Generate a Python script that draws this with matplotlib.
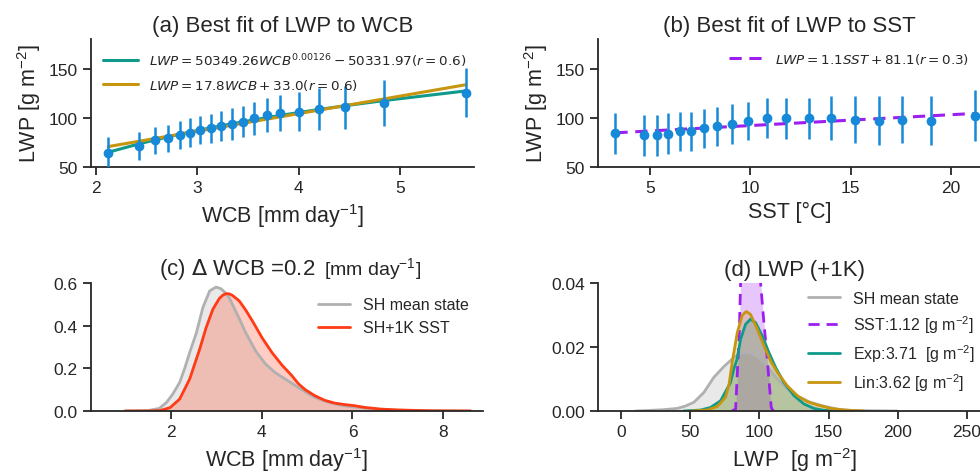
import matplotlib
matplotlib.use("Agg")
import matplotlib.pyplot as plt
import numpy as np
import seaborn as sns

# ---- (a) binned LWP against WCB ----
WCB_BINS = [2.12, 2.42, 2.58, 2.71, 2.83, 2.93, 3.03, 3.13, 3.23, 3.34,
            3.45, 3.56, 3.69, 3.82, 4.00, 4.20, 4.46, 4.84, 5.65]
LWP_BY_WCB = [64.0, 71.5, 77.0, 79.0, 82.4, 85.0, 87.5, 89.2, 92.0, 93.7,
              96.0, 99.5, 103.0, 104.6, 106.3, 109.0, 110.7, 115.0, 125.4]
LWP_BY_WCB_STD = [16.0, 14.5, 14.0, 14.0, 14.5, 14.5, 14.5, 15.0, 15.3, 16.0,
                  16.0, 16.5, 17.5, 18.5, 20.0, 21.0, 21.8, 23.0, 25.0]

# fit coefficients as printed in the legends
EXP_FIT = (50349.26, 0.00126, -50331.97)   # a * WCB**b + c
LIN_FIT_WCB = (17.8, 33.0)
LIN_FIT_SST = (1.1, 81.1)

# ---- (b) binned LWP against SST ----
SST_BINS = [3.27, 4.68, 5.35, 5.90, 6.48, 7.05, 7.67, 8.34, 9.09, 9.88,
            10.82, 11.80, 12.92, 14.04, 15.22, 16.39, 17.56, 18.99, 21.20]
LWP_BY_SST = [84.1, 82.0, 82.0, 84.0, 86.2, 86.2, 89.2, 91.3, 93.7, 96.8,
              99.5, 99.5, 99.5, 99.5, 98.1, 97.0, 98.1, 97.0, 102.2]
LWP_BY_SST_STD = [20.5, 20.5, 20.5, 20.5, 20.0, 20.0, 20.0, 20.0, 20.0, 19.5,
                  20.5, 21.0, 21.0, 22.5, 24.0, 25.0, 24.0, 25.0, 25.5]

# ---- (c) WCB density ----
WCB_X_MEAN = [1.0, 1.5, 1.75, 1.91, 2.05, 2.2, 2.31, 2.42, 2.57, 2.71, 2.86,
              3.0, 3.11, 3.2, 3.29, 3.43, 3.55, 3.65, 3.76, 3.87, 3.98, 4.09,
              4.3, 4.52, 4.81, 5.0, 5.17, 5.35, 5.54, 5.75, 5.97, 6.48, 6.99,
              7.5, 8.0, 8.6]
WCB_PDF_MEAN = [0.0, 0.002, 0.012, 0.04, 0.08, 0.134, 0.2, 0.274, 0.368, 0.485,
                0.563, 0.581, 0.573, 0.555, 0.531, 0.469, 0.415, 0.368, 0.325,
                0.282, 0.25, 0.22, 0.18, 0.15, 0.11, 0.085, 0.064, 0.05, 0.037,
                0.027, 0.02, 0.009, 0.004, 0.0015, 0.0005, 0.0]
WCB_X_WARM = [1.0, 1.5, 1.77, 1.99, 2.2, 2.42, 2.64, 2.78, 2.93, 3.07, 3.15,
              3.22, 3.29, 3.36, 3.51, 3.65, 3.8, 4.01, 4.23, 4.45, 4.67, 4.81,
              4.96, 5.17, 5.39, 5.61, 5.83, 6.04, 6.26, 6.62, 6.99, 7.71, 8.6]
WCB_PDF_WARM = [0.0, 0.0, 0.002, 0.016, 0.056, 0.15, 0.29, 0.39, 0.477, 0.527,
                0.543, 0.55, 0.549, 0.542, 0.516, 0.474, 0.422, 0.344, 0.274,
                0.215, 0.165, 0.128, 0.1, 0.072, 0.05, 0.037, 0.03, 0.025,
                0.017, 0.009, 0.005, 0.001, 0.0]

# ---- (d) LWP density ----
LWP_X_MEAN = [10, 21, 30, 40.3, 46, 52.4, 59.7, 66.9, 74.2, 81.4, 85, 88.7,
              93.5, 98.4, 105.6, 112.9, 120.1, 127.4, 137.1, 146.8, 156.4,
              166, 180, 200]
LWP_PDF_MEAN = [0.0, 0.0002, 0.0004, 0.0008, 0.0015, 0.0027, 0.0058, 0.0105,
                0.0139, 0.0167, 0.0177, 0.0183, 0.0181, 0.017, 0.0139, 0.01,
                0.0069, 0.0046, 0.0027, 0.0015, 0.0006, 0.0002, 0.0001, 0.0]
LWP_X_SST = [80.0, 82.7, 83.4, 84.3, 85.3, 86.3, 88.0, 90.0, 92.0, 94.0, 96.0,
             98.0, 100.8, 103.2, 105.2, 106.8, 108.5, 110.0]
LWP_PDF_SST = [0.0, 0.0006, 0.0069, 0.0152, 0.0235, 0.04, 0.055, 0.068, 0.075,
               0.077, 0.074, 0.064, 0.04, 0.0276, 0.0183, 0.01, 0.0011, 0.0]
LWP_X_EXP = [45, 57.3, 64.5, 71.8, 79.0, 81.4, 83.9, 86.3, 89.9, 93.5, 97.2,
             102.0, 106.8, 111.7, 117.7, 125.0, 132.2, 139.5, 146.8, 155]
LWP_PDF_EXP = [0.0, 0.0003, 0.0011, 0.0032, 0.0089, 0.0131, 0.0165, 0.0224,
               0.0271, 0.0287, 0.0276, 0.0235, 0.0183, 0.0136, 0.0089, 0.0048,
               0.0022, 0.0008, 0.0002, 0.0]
LWP_X_LIN = [50, 62.1, 69.4, 75.4, 78.0, 80.2, 83.9, 87.5, 90.4, 93.5, 98.4,
             103.2, 108.0, 112.9, 120.1, 127.4, 134.7, 141.9, 151.6, 161.3,
             175]
LWP_PDF_LIN = [0.0, 0.0003, 0.0014, 0.0043, 0.0085, 0.0152, 0.0245, 0.0299,
               0.0311, 0.0302, 0.0256, 0.0204, 0.0157, 0.0121, 0.0079, 0.0048,
               0.0029, 0.0019, 0.0008, 0.0003, 0.0]

LEGEND_A = [r"$LWP = 50349.26WCB^{0.00126} - 50331.97(r = 0.6)$",
            r"$LWP = 17.8WCB + 33.0(r = 0.6)$"]
LEGEND_B = r"$LWP = 1.1SST + 81.1(r = 0.3)$"
LEGEND_D = ["SH mean state",
            r"SST:1.12 [g m$\mathregular{^{-2}}$]",
            r"Exp:3.71  [g m$\mathregular{^{-2}}$]",
            r"Lin:3.62 [g m$\mathregular{^{-2}}$]"]

BLUE = "#1689d8"
TEAL = "#0f9a8c"
GOLD = "#c8950f"
PURPLE = "#9d1ff0"
GRAY = "#b0b0b0"
RED = "#ff3a14"

sns.set_style("ticks")
plt.rcParams["font.family"] = ["Liberation Sans", "DejaVu Sans"]
plt.rcParams["axes.linewidth"] = 1.3
plt.rcParams["xtick.major.width"] = 1.3
plt.rcParams["ytick.major.width"] = 1.3
plt.rcParams["xtick.major.size"] = 6
plt.rcParams["ytick.major.size"] = 6

TITLE_FS = 16
LABEL_FS = 15.5
TICK_FS = 12.5

W, H = 980.0, 477.0
fig = plt.figure(figsize=(W / 100, H / 100), dpi=100)


def box(left, top, right, bottom):
    return [left / W, 1 - bottom / H, (right - left) / W, (bottom - top) / H]


ax_a = fig.add_axes(box(91, 40, 474, 168))
ax_b = fig.add_axes(box(598, 40, 981, 168))
ax_c = fig.add_axes(box(91, 284, 483, 412))
ax_d = fig.add_axes(box(598, 284, 990, 412))

lwp_label = r"LWP [g m$\mathregular{^{-2}}$]"

# (a)
wcb = np.array(WCB_BINS)
a, b, c = EXP_FIT
ax_a.plot(wcb, a * wcb ** b + c, color=TEAL, lw=2.2, label=LEGEND_A[0])
ax_a.plot(wcb, LIN_FIT_WCB[0] * wcb + LIN_FIT_WCB[1], color=GOLD, lw=2.2,
          label=LEGEND_A[1])
ax_a.errorbar(WCB_BINS, LWP_BY_WCB, yerr=LWP_BY_WCB_STD, fmt="o", color=BLUE,
              ms=6, elinewidth=1.8, capsize=0, zorder=3)
ax_a.set_xlim(1.95, 5.73)
ax_a.set_ylim(50, 180)
ax_a.set_yticks([50, 100, 150])
ax_a.set_xticks([2, 3, 4, 5])
ax_a.set_title("(a) Best fit of LWP to WCB", fontsize=TITLE_FS)
ax_a.set_xlabel(r"WCB [mm day$\mathregular{^{-1}}$]", fontsize=LABEL_FS)
ax_a.set_ylabel(lwp_label, fontsize=LABEL_FS)
ax_a.legend(loc="upper left", frameon=False, fontsize=9.7, handlelength=2.6,
            labelspacing=0.6, borderaxespad=0.5)

# (b)
sst = np.array(SST_BINS)
ax_b.plot(sst, LIN_FIT_SST[0] * sst + LIN_FIT_SST[1], color=PURPLE, lw=2.2,
          ls=(0, (4, 2.5)), label=LEGEND_B)
ax_b.errorbar(SST_BINS, LWP_BY_SST, yerr=LWP_BY_SST_STD, fmt="o", color=BLUE,
              ms=6, elinewidth=1.8, capsize=0, zorder=3)
ax_b.set_xlim(2.4, 21.5)
ax_b.set_ylim(50, 180)
ax_b.set_yticks([50, 100, 150])
ax_b.set_xticks([5, 10, 15, 20])
ax_b.set_title("(b) Best fit of LWP to SST", fontsize=TITLE_FS)
ax_b.set_xlabel("SST [°C]", fontsize=LABEL_FS)
ax_b.set_ylabel(lwp_label, fontsize=LABEL_FS)
ax_b.legend(loc="upper right", frameon=False, fontsize=9.7, handlelength=2.6,
            borderaxespad=0.5)

# (c)
ax_c.fill_between(WCB_X_MEAN, WCB_PDF_MEAN, color="#a9a9a9", alpha=0.25, lw=0)
ax_c.plot(WCB_X_MEAN, WCB_PDF_MEAN, color=GRAY, lw=2, label="SH mean state")
ax_c.fill_between(WCB_X_WARM, WCB_PDF_WARM, color=RED, alpha=0.25, lw=0)
ax_c.plot(WCB_X_WARM, WCB_PDF_WARM, color=RED, lw=2, label="SH+1K SST")
ax_c.set_xlim(0.25, 8.87)
ax_c.set_ylim(0, 0.6)
ax_c.set_xticks([2, 4, 6, 8])
ax_c.set_yticks([0.0, 0.2, 0.4, 0.6])
ax_c.text(0.573, 1.07, r"(c) $\Delta$ WCB =0.2", transform=ax_c.transAxes,
          ha="right", va="baseline", fontsize=TITLE_FS)
ax_c.text(0.595, 1.07, r"[mm day$\mathregular{^{-1}}$]", transform=ax_c.transAxes,
          ha="left", va="baseline", fontsize=14)
ax_c.set_xlabel(r"WCB [mm day$\mathregular{^{-1}}$]", fontsize=LABEL_FS)
ax_c.legend(loc="upper right", frameon=False, fontsize=11.5)

# (d)
d_series = [
    (LWP_X_MEAN, LWP_PDF_MEAN, "#a9a9a9", GRAY, "-"),
    (LWP_X_SST, LWP_PDF_SST, PURPLE, PURPLE, (0, (4, 2.5))),
    (LWP_X_EXP, LWP_PDF_EXP, TEAL, TEAL, "-"),
    (LWP_X_LIN, LWP_PDF_LIN, GOLD, GOLD, "-"),
]
for (xs, ys, fc, lc, ls), label in zip(d_series, LEGEND_D):
    ax_d.fill_between(xs, ys, color=fc, alpha=0.25, lw=0)
    ax_d.plot(xs, ys, color=lc, lw=2, ls=ls, label=label)
ax_d.set_xlim(-17, 267)
ax_d.set_ylim(0, 0.04)
ax_d.set_xticks([0, 50, 100, 150, 200, 250])
ax_d.set_yticks([0.0, 0.02, 0.04])
ax_d.set_title("(d) LWP (+1K)", fontsize=TITLE_FS)
ax_d.set_xlabel(r"LWP  [g m$\mathregular{^{-2}}$]", fontsize=LABEL_FS)
ax_d.legend(loc="upper right", bbox_to_anchor=(0.982, 1.0), frameon=False,
            fontsize=11.5, labelspacing=0.45, borderaxespad=0.1)

for ax in (ax_a, ax_b, ax_c, ax_d):
    ax.tick_params(labelsize=TICK_FS)
    sns.despine(ax=ax)

fig.savefig("out.png", dpi=100)
